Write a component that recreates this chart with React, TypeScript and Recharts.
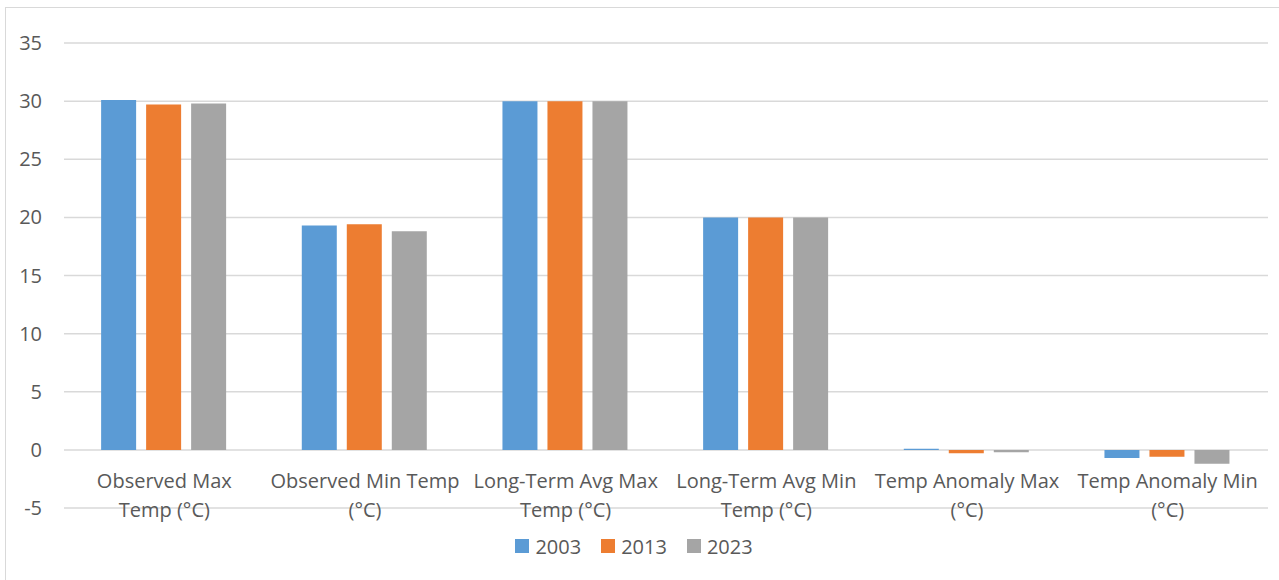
import React from "react";
import { BarChart, Bar, CartesianGrid, XAxis, YAxis, Legend } from "recharts";

const categories = [
  "Observed Max\nTemp (°C)",
  "Observed Min Temp\n(°C)",
  "Long-Term Avg Max\nTemp (°C)",
  "Long-Term Avg Min\nTemp (°C)",
  "Temp Anomaly Max\n(°C)",
  "Temp Anomaly Min\n(°C)",
];
const series2003 = [30.1, 19.3, 30, 20, 0.1, -0.7];
const series2013 = [29.7, 19.4, 30, 20, -0.3, -0.6];
const series2023 = [29.8, 18.8, 30, 20, -0.2, -1.2];
const yTicks = [-5, 0, 5, 10, 15, 20, 25, 30, 35];

const seriesInfo = [
  { key: "2003", color: "#5B9BD5" },
  { key: "2013", color: "#ED7D31" },
  { key: "2023", color: "#A5A5A5" },
];

const data = categories.map((name, i) => ({
  name,
  "2003": series2003[i],
  "2013": series2013[i],
  "2023": series2023[i],
}));

const FONT = "'Open Sans', Lato, sans-serif";
const TEXT = "#595959";
const FS = 20;

const CategoryTick = (props: any) => {
  const { x, y, payload } = props;
  const lines = String(payload.value).split("\n");
  return (
    <text x={x} y={y} textAnchor="middle" fill={TEXT} fontSize={FS} fontFamily={FONT}>
      {lines.map((l, i) => (
        <tspan key={i} x={x} y={y - 20 + i * 29}>
          {l}
        </tspan>
      ))}
    </text>
  );
};

const LegendContent = () => (
  <div style={{ height: 30, display: "flex", justifyContent: "center", alignItems: "center", fontFamily: FONT, fontSize: FS, color: TEXT }}>
    {seriesInfo.map((s) => (
      <div key={s.key} style={{ display: "flex", alignItems: "center", margin: "0 10px" }}>
        <span style={{ width: 14, height: 14, background: s.color, marginRight: 6, display: "inline-block" }} />
        <span>{s.key}</span>
      </div>
    ))}
  </div>
);

export default function App() {
  return (
    <div style={{ position: "absolute", left: 0, top: 0, width: 1279, height: 580, background: "#fff", overflow: "hidden" }}>
      <div style={{ position: "absolute", left: 5, top: 7, width: 1300, height: 600, border: "1px solid #D9D9D9" }} />
      <BarChart
        width={1279}
        height={580}
        data={data}
        margin={{ top: 43, right: 11, left: 0, bottom: 0 }}
        barCategoryGap="18.5%"
        barGap={10}
      >
        <CartesianGrid vertical={false} stroke="#D9D9D9" strokeWidth={1.5} />
        <XAxis
          dataKey="name"
          height={42}
          axisLine={false}
          tickLine={false}
          tickSize={0}
          tickMargin={0}
          interval={0}
          tick={<CategoryTick />}
        />
        <YAxis
          width={64}
          domain={[-5, 35]}
          ticks={yTicks}
          axisLine={false}
          tickLine={false}
          tickMargin={16}
          tick={{ fill: TEXT, fontSize: FS, fontFamily: FONT }}
        />
        <Legend verticalAlign="bottom" content={<LegendContent />} wrapperStyle={{ top: 531 }} />
        {seriesInfo.map((s) => (
          <Bar key={s.key} dataKey={s.key} fill={s.color} isAnimationActive={false} />
        ))}
      </BarChart>
    </div>
  );
}
